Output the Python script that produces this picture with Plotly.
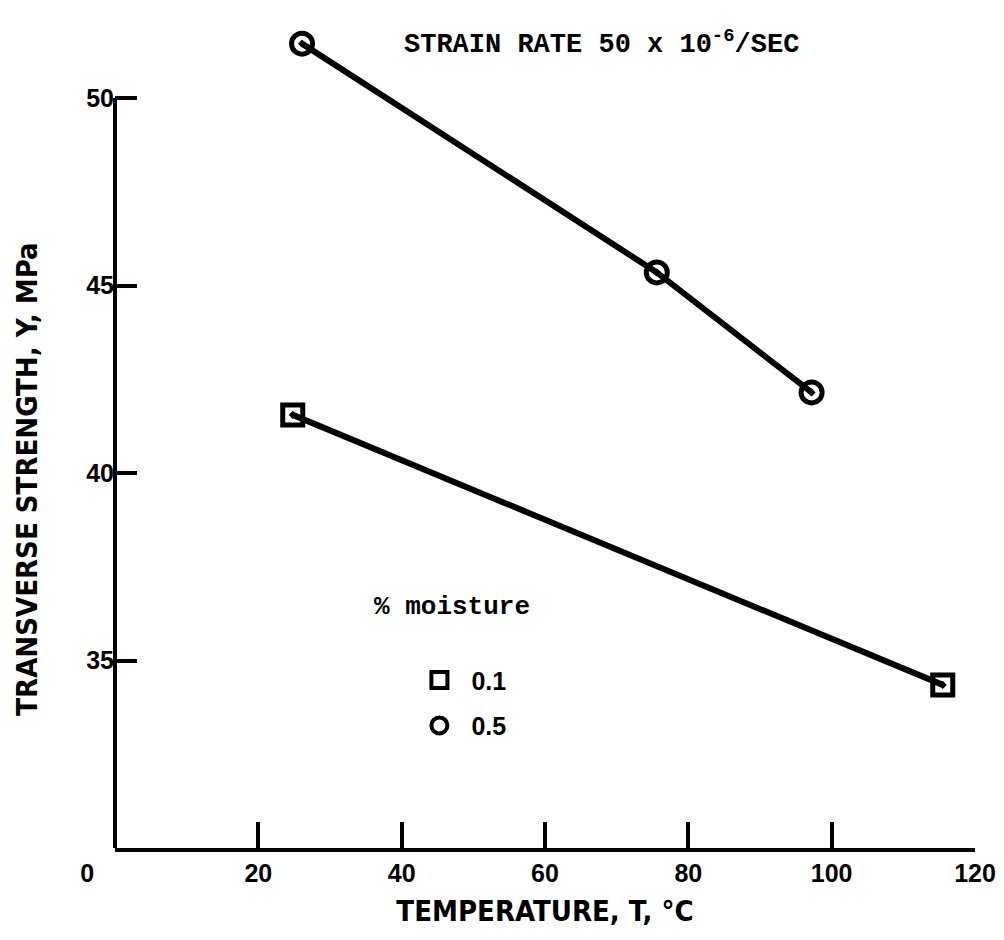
import plotly.graph_objects as go

# Data
temp_05 = [26.1, 75.6, 97.2]
strength_05 = [51.45, 45.35, 42.15]
temp_01 = [24.8, 115.5]
strength_01 = [41.55, 34.35]

x_ticks = [0, 20, 40, 60, 80, 100, 120]
x_ticklabels = ["0\u2007\u2007\u2007\u2007", "20", "40", "60", "80", "100", "120"]
y_ticks = [35, 40, 45, 50]
y_ticklabels = ["35", "40", "45", "50"]

x_range = [0, 120]
y_range = [30, 52.32]

SANS = "Liberation Sans Narrow, DejaVu Sans Condensed, Liberation Sans, Arial"
BOLD_SANS = "Liberation Sans, Arial"
MONO = "Liberation Mono, DejaVu Sans Mono, Courier New"

fig = go.Figure()

fig.add_trace(go.Scatter(
    x=temp_05, y=strength_05, mode="lines+markers", showlegend=False,
    line=dict(color="black", width=6),
    marker=dict(symbol="circle-open-dot", size=21, color="black",
                line=dict(color="black", width=5)),
))
fig.add_trace(go.Scatter(
    x=temp_01, y=strength_01, mode="lines+markers", showlegend=False,
    line=dict(color="black", width=6),
    marker=dict(symbol="square-open-dot", size=20, color="black",
                line=dict(color="black", width=5)),
))

# legend-only entries
fig.add_trace(go.Scatter(
    x=[None], y=[None], mode="markers", name="0.1", legendgroup="a",
    marker=dict(symbol="square-open", size=19, color="black",
                line=dict(color="black", width=4)),
))
fig.add_trace(go.Scatter(
    x=[None], y=[None], mode="markers", name="0.5", legendgroup="b",
    marker=dict(symbol="circle-open", size=19, color="black",
                line=dict(color="black", width=4)),
))

# y axis line only up to the top tick
fig.add_shape(type="line", xref="x domain", x0=0, x1=0, yref="y",
              y0=y_range[0], y1=y_ticks[-1],
              line=dict(color="black", width=4), layer="above")

fig.update_layout(
    width=1004, height=940,
    margin=dict(l=107, r=37, t=3, b=100),
    paper_bgcolor="white", plot_bgcolor="white",
    showlegend=True,
    legend=dict(x=0.34, y=0.228, xanchor="left", yanchor="top",
                font=dict(family=BOLD_SANS, size=25, color="black", weight="bold"),
                bgcolor="rgba(0,0,0,0)", itemsizing="trace", itemwidth=54,
                tracegroupgap=10),
    xaxis=dict(range=x_range, tickmode="array", tickvals=x_ticks,
               ticktext=x_ticklabels, ticks="inside", ticklen=26,
               tickwidth=3.5, tickcolor="black", showline=True,
               linecolor="black", linewidth=4, showgrid=False,
               zeroline=False,
               tickfont=dict(family=BOLD_SANS, size=25, color="black", weight="bold"),
               title=dict(text="<b>TEMPERATURE, T, °C</b>", standoff=16,
                          font=dict(family=SANS, size=29, color="black"))),
    yaxis=dict(range=y_range, tickmode="array", tickvals=y_ticks,
               ticktext=y_ticklabels, ticks="inside", ticklen=22,
               tickwidth=3.5, tickcolor="black", showline=False,
               showgrid=False, zeroline=False,
               tickfont=dict(family=BOLD_SANS, size=25, color="black", weight="bold")),
)

# y axis title (placed below centre, as in the original)
fig.add_annotation(
    xref="paper", yref="paper", x=0, y=0.44, xshift=-88,
    xanchor="center", yanchor="middle", textangle=-90, showarrow=False,
    text="<b>TRANSVERSE STRENGTH, Y, MPa</b>",
    font=dict(family=SANS, size=29, color="black"),
)
fig.add_annotation(
    xref="paper", yref="paper", x=0.566, y=1.0, xanchor="center", yanchor="middle",
    yshift=-31, showarrow=False,
    text="<b>STRAIN RATE 50 x 10<sup>-6</sup>/SEC</b>",
    font=dict(family=MONO, size=27, color="black"),
)
fig.add_annotation(
    xref="paper", yref="paper", x=0.299, y=0.288, xanchor="left", yanchor="middle",
    showarrow=False, text="<b>% moisture</b>",
    font=dict(family=MONO, size=26, color="black"),
)

fig.write_html("out.html")
